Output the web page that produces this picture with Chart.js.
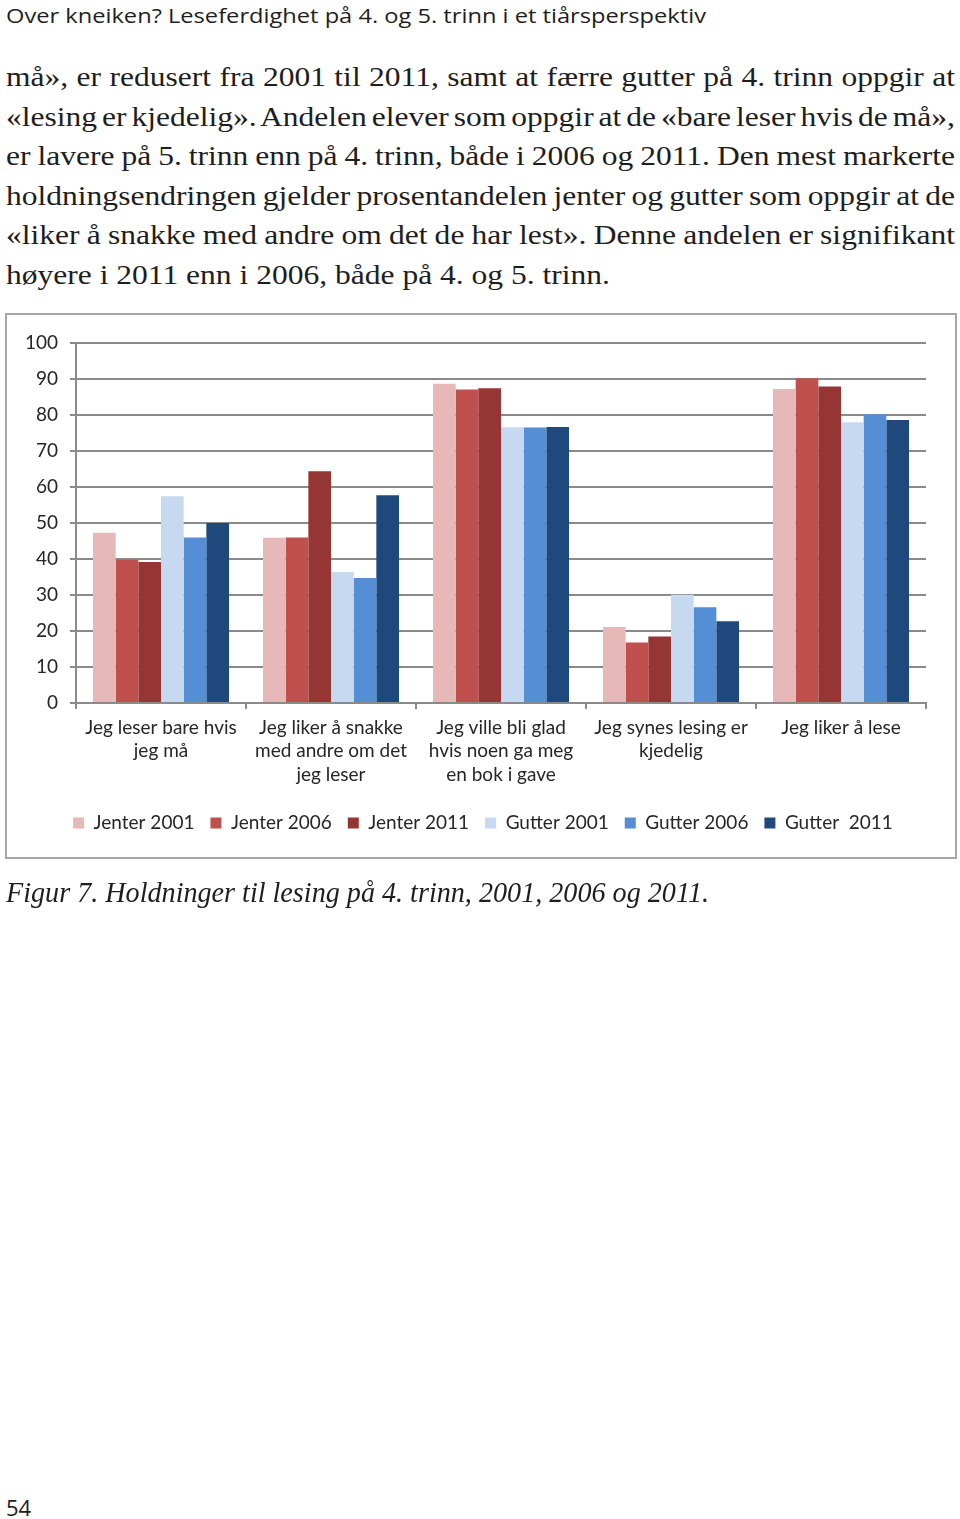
<!DOCTYPE html>
<html><head><meta charset="utf-8">
<script src="https://cdn.jsdelivr.net/npm/chart.js@4.4.1/dist/chart.umd.min.js"></script>
<style>
html,body{margin:0;padding:0;background:#fff;}
body{width:960px;height:1519px;position:relative;overflow:hidden;}
.t{position:absolute;left:0;top:0;white-space:nowrap;color:#1e1e1e;}
.hdr{font-family:"Open Sans",sans-serif;font-size:20px;line-height:20px;}
.body{font-family:"Liberation Serif",serif;font-size:28px;line-height:28px;}
.cap{font-family:"Liberation Serif",serif;font-style:italic;font-size:29px;line-height:29px;}
.pg{font-family:"Open Sans",sans-serif;font-size:22px;line-height:22px;}
#box{position:absolute;left:5px;top:313px;width:952px;height:546px;border:2px solid #a6a6a6;box-sizing:border-box;}
#wrap{position:absolute;left:7px;top:315px;width:948px;height:600px;}
</style>
</head>
<body>
<div class="t hdr" data-x="6" data-base="22.5" data-w="700"><span>Over kneiken? Leseferdighet på 4. og 5. trinn i et tiårsperspektiv</span></div>
<div class="t body" data-x="6" data-base="86" data-w="949" data-j="1"><span>må», er redusert fra 2001 til 2011, samt at færre gutter på 4. trinn oppgir at</span></div>
<div class="t body" data-x="6" data-base="125.5" data-w="949" data-j="1"><span>«lesing er kjedelig». Andelen elever som oppgir at de «bare leser hvis de må»,</span></div>
<div class="t body" data-x="6" data-base="165" data-w="949" data-j="1"><span>er lavere på 5. trinn enn på 4. trinn, både i 2006 og 2011. Den mest markerte</span></div>
<div class="t body" data-x="6" data-base="204.5" data-w="949" data-j="1"><span>holdningsendringen gjelder prosentandelen jenter og gutter som oppgir at de</span></div>
<div class="t body" data-x="6" data-base="244" data-w="949" data-j="1"><span>«liker å snakke med andre om det de har lest». Denne andelen er signifikant</span></div>
<div class="t body" id="lastline" data-x="6" data-base="283.5" data-w="604"><span>høyere i 2011 enn i 2006, både på 4. og 5. trinn.</span></div>
<div id="box"></div>
<div id="wrap"><canvas id="c" width="948" height="600"></canvas></div>
<div class="t cap" data-x="6" data-base="902" data-w="703"><span>Figur 7. Holdninger til lesing på 4. trinn, 2001, 2006 og 2011.</span></div>
<div class="t pg" data-x="6" data-base="1516"><span>54</span></div>
<script>
// ---- data ----
const categories = [
  ["Jeg leser bare hvis", "jeg må"],
  ["Jeg liker å snakke", "med andre om det", "jeg leser"],
  ["Jeg ville bli glad", "hvis noen ga meg", "en bok i gave"],
  ["Jeg synes lesing er", "kjedelig"],
  ["Jeg liker å lese"]
];
const seriesNames = ["Jenter 2001", "Jenter 2006", "Jenter 2011", "Gutter 2001", "Gutter 2006", "Gutter  2011"];
const jenter2001 = [47.3, 45.9, 88.7, 21.1, 87.2];
const jenter2006 = [39.8, 46.0, 87.1, 16.8, 90.2];
const jenter2011 = [39.2, 64.4, 87.4, 18.5, 87.9];
const gutter2001 = [57.4, 36.4, 76.6, 30.1, 78.0];
const gutter2006 = [46.0, 34.7, 76.5, 26.6, 80.2];
const gutter2011 = [50.0, 57.7, 76.7, 22.7, 78.6];
const yTicks = [0, 10, 20, 30, 40, 50, 60, 70, 80, 90, 100];

const seriesValues = [jenter2001, jenter2006, jenter2011, gutter2001, gutter2006, gutter2011];
const seriesColors = ["#e6b9b8", "#c0504d", "#963634", "#c6d9f1", "#558ed5", "#1f497d"];

// ---- text layout ----
(function layoutText(){
  const last = document.getElementById('lastline');
  const lastW = last.querySelector('span').getBoundingClientRect().width;
  const bodyR = 604 / lastW;
  document.querySelectorAll('.t').forEach(el => {
    const span = el.querySelector('span');
    const x = +el.dataset.x, base = +el.dataset.base;
    el.style.left = x + 'px';
    const m = document.createElement('span');
    m.style.cssText = 'display:inline-block;width:0;height:0;';
    el.appendChild(m);
    const b = m.getBoundingClientRect().bottom;
    el.style.top = (base - b) + 'px';
    const w = span.getBoundingClientRect().width;
    let r = 1;
    if (el.classList.contains('body')) {
      r = bodyR;
      if (el.dataset.j) {
        const n = (span.textContent.match(/ /g) || []).length;
        span.style.wordSpacing = ((+el.dataset.w / r - w) / n) + 'px';
      }
    } else if (el.dataset.w) {
      r = +el.dataset.w / w;
    }
    el.style.transformOrigin = '0 0';
    el.style.transform = 'scaleX(' + r + ')';
  });
})();

// ---- chart ----
const axisColor = '#8a8a8a';
const textColor = '#262626';
const legendShift = {
  id: 'legendShift',
  afterLayout(chart) {
    const l = chart.legend;
    if (l) { l.left += 13; l.right += 13; }
  }
};
new Chart(document.getElementById('c'), {
  type: 'bar',
  data: {
    labels: categories,
    datasets: seriesNames.map((name, i) => ({
      label: name,
      data: seriesValues[i],
      backgroundColor: seriesColors[i],
      borderWidth: 0,
      categoryPercentage: 0.8,
      barPercentage: 1.0
    }))
  },
  plugins: [legendShift],
  options: {
    responsive: false,
    animation: false,
    layout: { padding: { left: 7, top: 28, right: 29, bottom: 72.5 } },
    plugins: {
      legend: {
        position: 'bottom',
        labels: { boxWidth: 11, boxHeight: 11, padding: 16, color: textColor, font: { family: 'Lato', size: 19 } }
      },
      tooltip: { enabled: false }
    },
    scales: {
      x: {
        grid: { display: true, drawOnChartArea: false, offset: true, tickLength: 6, color: axisColor, lineWidth: 2 },
        border: { color: axisColor, width: 2 },
        ticks: { padding: 7, color: textColor, font: { family: 'Lato', size: 19, lineHeight: 1.24 }, maxRotation: 0, autoSkip: false },
        afterFit(s) { s.height = 94.5; }
      },
      y: {
        min: 0, max: 100,
        afterBuildTicks(s) { s.ticks = yTicks.map(v => ({ value: v })); },
        grid: { color: axisColor, lineWidth: 2, tickLength: 6 },
        border: { color: axisColor, width: 2 },
        ticks: { padding: 12, color: textColor, font: { family: 'Lato', size: 19 } },
        afterFit(s) { s.width = 62; }
      }
    }
  }
});
</script>
</body></html>
